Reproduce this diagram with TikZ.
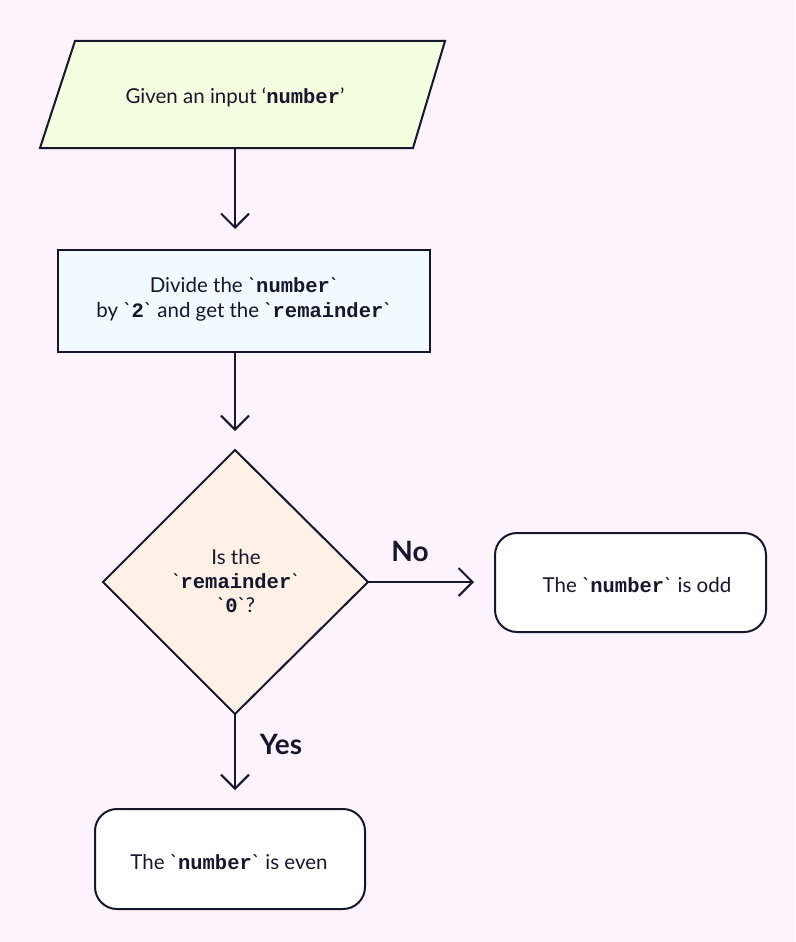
\documentclass[tikz,border=0pt]{standalone}
\usepackage{fontspec}
\setmainfont{Lato}[Ligatures=TeXOff]
\setmonofont{Liberation Mono}[Ligatures=TeXOff]
\usetikzlibrary{arrows.meta,shapes.geometric}
\definecolor{bgpink}{RGB}{253,243,252}
\definecolor{ink}{RGB}{22,22,44}
\definecolor{fillgreen}{RGB}{243,253,224}
\definecolor{fillblue}{RGB}{241,250,255}
\definecolor{fillpeach}{RGB}{253,240,230}
\newcommand{\cd}[1]{\texttt{\bfseries #1}}
\tikzset{
  base/.style={draw=ink, line width=2pt, text=ink, align=center, inner sep=0pt},
  txt/.style={text=ink, font=\fontsize{20.5}{25}\selectfont, align=center, inner sep=0pt},
  flowarrow/.style={draw=ink, line width=2pt, -{Straight Barb[length=14pt,width=28pt,line width=2pt]}},
  lbl/.style={text=ink, font=\fontsize{28}{30}\selectfont\bfseries},
}
\begin{document}
\begin{tikzpicture}[x=1pt,y=-1pt]
\fill[bgpink] (0,0) rectangle (795,942);
\useasboundingbox (0,0) rectangle (795,942);
% input parallelogram
\filldraw[fill=fillgreen, draw=ink, line width=2pt] (75,41) -- (445,41) -- (413,148) -- (40,148) -- cycle;
\node[txt] (in) at (235,97) {Given an input ‘\cd{number}’};
\coordinate (inb) at (235,148);
% process
\node[base, fill=fillblue, minimum width=372pt, minimum height=102pt] (proc) at (244,301) {};
\node[txt] (proct) at (244,299) {Divide the `\cd{number}`\\by `\cd{2}` and get the `\cd{remainder}`};
% decision
\filldraw[fill=fillpeach, draw=ink, line width=2pt] (235,450) -- (368,582) -- (235,714) -- (103,582) -- cycle;
\coordinate (dright) at (368,582);
\coordinate (dbot) at (235,714);
\node[txt, font=\fontsize{20.5}{24}\selectfont] (dec) at (236,581) {Is the\\`\cd{remainder}`\\`\cd{0}`?};
% outcomes
\node[base, fill=white, rounded corners=22pt, minimum width=271pt, minimum height=99pt] (odd) at (630.5,582.5) {};
\node[txt] (oddt) at (637,585) {The `\cd{number}` is odd};
\node[base, fill=white, rounded corners=22pt, minimum width=270pt, minimum height=100pt] (even) at (230,859) {};
\node[txt] (event) at (229,862) {The `\cd{number}` is even};
% arrows
\draw[flowarrow] (inb) -- (235,229);
\draw[flowarrow] (proc.south -| inb) -- (235,431);
\draw[flowarrow] (dright) -- (474,582);
\draw[flowarrow] (dbot) -- (235,790);
\node[lbl] (no) at (410,551) {No};
\node[lbl] (yes) at (281,744) {Yes};
\end{tikzpicture}
\end{document}
